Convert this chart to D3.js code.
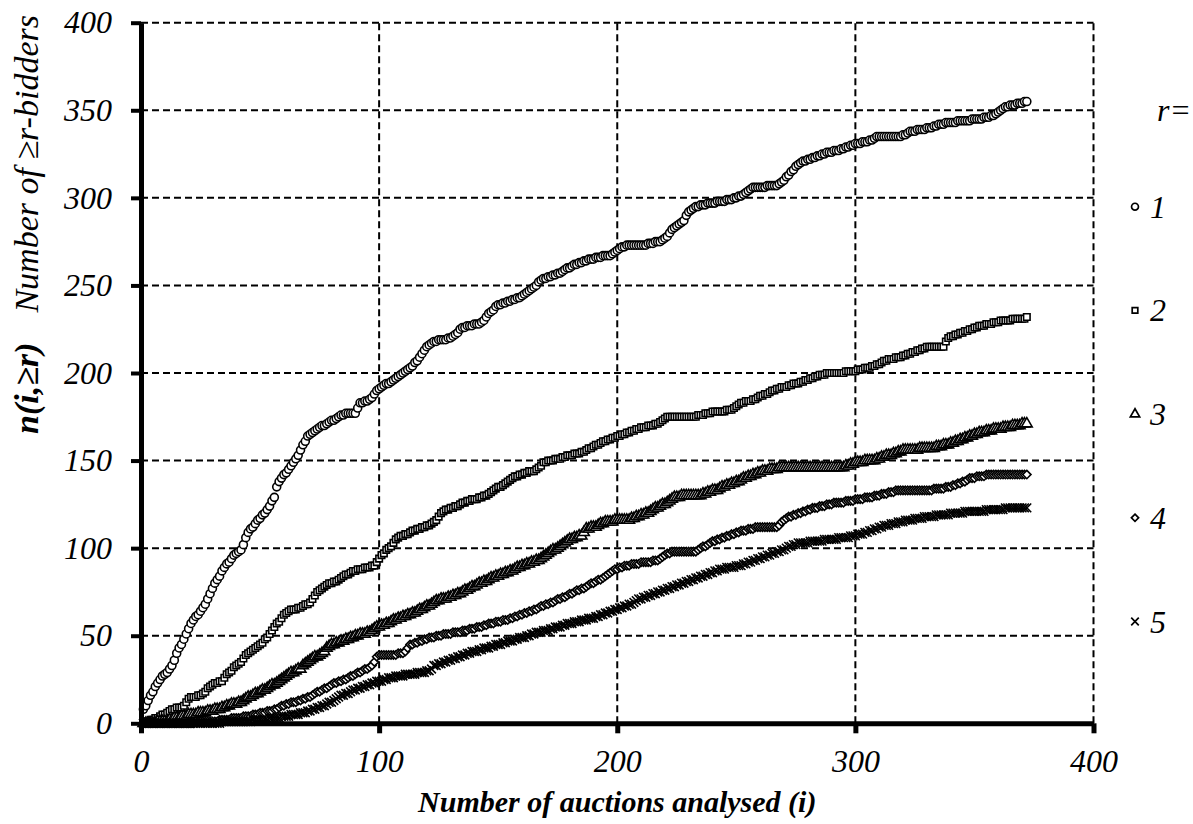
<!DOCTYPE html>
<html>
<head>
<meta charset="utf-8">
<script src="https://cdn.jsdelivr.net/npm/d3@7"></script>
<style>
  html, body { margin: 0; padding: 0; background: #fff; }
  svg { display: block; }
</style>
</head>
<body>
<svg id="chart" width="1193" height="824"></svg>
<script>
// cumulative number of bidders seen in >= r auctions, after auction i = 1..372
const r1 = [
  8,10,13,16,18,21,23,25,27,28, 29,31,33,36,40,43,45,48,51,54,
  57,59,61,62,64,66,68,71,74,77, 80,82,84,87,89,91,92,94,96,97,
  98,99,102,106,109,111,112,114,116,117, 119,120,122,124,127,129,135,138,140,142,
  143,145,147,149,151,153,156,159,161,164, 165,166,167,168,169,170,170,171,172,173,
  173,174,175,176,176,177,177,177,177,177, 180,183,183,184,184,185,186,188,190,191,
  192,193,194,194,195,196,197,198,199,200, 201,202,203,204,206,207,209,211,213,215,
  216,217,218,218,219,219,219,219,220,220, 221,222,223,225,226,226,227,227,227,228,
  228,228,229,230,232,234,235,236,238,239, 239,240,240,241,241,242,242,243,243,244,
  245,246,247,248,249,250,252,253,254,254, 255,255,256,256,257,257,258,259,260,260,
  261,262,262,263,263,264,264,265,265,265, 266,266,266,267,267,267,267,268,269,270,
  271,272,272,273,273,273,273,273,273,273, 273,273,274,274,274,275,275,275,276,277,
  278,280,282,283,284,285,286,287,290,292, 293,294,295,295,296,296,296,297,297,297,
  297,298,298,298,298,299,299,299,300,300, 301,301,302,303,304,305,306,306,306,306,
  306,306,307,307,307,307,307,308,309,310, 312,313,315,316,318,319,320,321,321,322,
  322,323,323,324,324,325,325,326,326,326, 327,327,327,328,328,329,329,330,330,331,
  331,331,332,332,332,333,333,334,335,335, 335,335,335,335,335,335,335,335,335,336,
  336,337,338,338,338,339,339,339,339,340, 340,340,341,341,342,342,342,343,343,343,
  343,343,344,344,344,344,344,344,345,345, 345,345,345,346,346,346,347,347,348,349,
  350,351,352,352,353,353,353,354,354,354, 355,355
];
const r2 = [
  0,1,1,2,2,3,3,4,5,5, 6,7,8,8,9,9,9,10,12,14,
  15,15,15,16,16,17,18,20,21,22, 23,23,24,24,26,28,29,30,32,33,
  34,35,37,39,40,41,42,43,44,45, 46,48,49,51,53,55,57,58,60,62,
  63,64,65,65,65,66,66,67,68,68, 69,71,73,75,76,77,78,79,80,80,
  81,81,82,83,84,85,85,86,87,87, 88,88,88,89,89,89,90,90,92,94,
  96,97,99,100,101,103,105,106,107,107, 108,108,109,110,110,111,111,112,112,113,
  113,114,115,116,118,120,121,122,122,123, 123,124,124,125,126,126,127,127,128,128,
  128,129,129,130,130,131,132,133,134,135, 135,136,137,138,139,140,141,141,142,142,
  143,143,144,144,144,145,146,147,149,149, 150,150,150,151,151,151,152,152,153,153,
  153,154,154,154,155,155,156,157,157,158, 159,159,160,161,161,162,162,163,163,164,
  164,165,165,166,166,167,167,168,168,169, 169,169,170,170,170,171,171,172,173,174,
  175,175,175,175,175,175,175,175,175,175, 175,175,175,176,176,176,177,177,177,178,
  178,178,178,178,178,179,179,179,180,181, 182,183,183,184,184,184,185,185,186,187,
  187,188,188,189,190,190,191,191,192,192, 192,193,193,194,194,194,195,195,196,196,
  197,197,198,198,199,199,199,200,200,200, 200,200,200,200,200,201,201,201,201,201,
  202,202,202,203,203,203,204,204,205,205, 206,207,207,208,208,208,209,209,209,210,
  210,211,211,212,212,213,213,214,214,215, 215,215,215,215,215,215,215,218,220,221,
  221,222,222,223,223,224,224,225,225,226, 226,227,227,227,228,228,228,229,229,229,
  230,230,230,230,230,231,231,231,231,231, 231,232
];
const r3 = [
  0,0,0,0,0,0,1,1,1,1, 1,2,2,3,3,3,4,4,4,5,
  5,5,5,6,6,6,6,7,7,7, 8,8,8,9,9,10,10,11,11,11,
  12,12,13,14,15,15,16,17,17,18, 19,19,20,21,22,22,23,24,25,26,
  27,28,29,29,30,31,31,33,34,35, 36,37,38,38,39,40,41,43,44,45,
  45,46,46,47,47,48,48,49,49,50, 50,51,51,51,52,52,53,54,55,55,
  56,56,57,57,58,59,59,60,60,61, 61,62,62,63,63,64,65,65,66,67,
  67,68,69,70,70,71,71,71,72,72, 73,73,74,74,75,76,76,77,78,78,
  79,80,80,81,81,82,83,83,84,84, 85,85,86,86,87,87,88,89,89,90,
  90,91,91,92,92,93,93,94,95,96, 97,98,99,99,100,101,102,103,104,105,
  105,106,106,107,107,109,111,111,112,112, 112,113,114,114,115,115,115,115,116,116,
  116,116,116,116,116,117,117,118,118,119, 119,120,120,121,122,123,123,124,125,125,
  126,127,128,129,129,129,130,130,130,130, 130,130,130,130,130,131,131,132,132,133,
  133,133,134,135,135,136,136,137,137,138, 138,139,140,140,141,141,142,142,143,143,
  144,144,144,145,145,145,145,146,146,146, 146,146,146,146,146,146,146,146,146,146,
  146,146,146,146,146,146,146,146,146,146, 146,146,146,146,146,147,147,148,148,149,
  149,149,149,150,150,150,150,150,151,151, 152,152,153,153,153,154,154,155,155,156,
  156,156,156,156,156,156,157,157,157,157, 157,157,157,158,158,158,159,159,159,160,
  160,161,161,162,162,163,163,164,164,165, 165,166,166,166,167,167,167,168,168,168,
  168,169,169,169,169,170,170,170,170,171, 171,171
];
const r4 = [
  0,0,0,0,0,0,0,0,0,0, 0,0,0,0,0,0,0,0,0,0,
  0,0,1,1,1,1,1,1,1,1, 1,1,2,2,2,2,2,3,3,3,
  3,3,4,4,4,4,5,5,5,6, 6,6,7,7,7,8,8,9,10,10,
  11,11,12,12,12,13,13,14,14,15, 15,16,17,18,18,19,20,20,21,22,
  23,23,24,24,25,25,26,27,27,28, 29,29,30,31,31,32,33,35,38,39,
  39,39,39,39,39,39,39,40,40,40, 41,43,45,45,46,46,47,47,48,48,
  49,49,49,50,50,50,51,51,51,51, 52,52,52,52,53,53,53,54,54,54,
  55,55,55,56,56,57,57,57,58,58, 58,59,59,59,60,60,61,61,62,62,
  63,63,64,64,65,65,66,67,67,68, 68,69,69,70,71,71,72,72,73,74,
  74,75,76,76,77,77,78,79,80,80, 81,82,82,83,84,85,86,87,88,88,
  89,89,90,90,90,91,91,91,91,92, 92,92,92,92,93,93,93,94,95,96,
  97,97,98,98,98,98,98,98,98,98, 98,98,98,99,100,101,101,102,103,104,
  104,105,105,106,106,107,107,108,108,109, 109,110,110,110,111,111,111,112,112,112,
  112,112,112,112,112,112,112,113,115,116, 117,118,118,119,119,120,120,121,121,122,
  122,123,123,123,124,124,124,125,125,125, 126,126,126,126,126,127,127,127,127,128,
  128,128,128,129,129,129,129,130,130,130, 131,131,131,132,132,132,133,133,133,133,
  133,133,133,133,133,133,133,133,133,133, 133,133,134,134,134,134,134,135,135,135,
  136,136,137,137,138,138,139,140,140,140, 141,141,141,141,142,142,142,142,142,142,
  142,142,142,142,142,142,142,142,142,142, 142,142
];
const r5 = [
  0,0,0,0,0,0,0,0,0,0, 0,0,0,0,0,0,0,0,0,0,
  0,0,0,0,0,0,0,0,0,0, 0,0,0,1,1,1,1,1,1,1,
  1,1,1,1,1,1,2,2,2,2, 2,2,2,3,3,3,3,3,4,4,
  4,4,5,5,5,5,6,6,6,7, 7,8,8,9,9,10,10,11,12,12,
  13,14,15,16,16,17,17,18,19,19, 20,20,21,21,22,22,23,23,24,24,
  24,25,25,26,26,26,27,27,27,27, 28,28,28,28,28,29,29,29,29,30,
  30,31,33,33,34,34,35,35,36,36, 37,37,38,38,39,39,40,40,41,41,
  41,42,42,43,43,43,44,44,45,45, 45,46,46,47,47,47,48,48,49,49,
  49,50,50,51,51,52,52,52,53,53, 53,54,54,55,55,55,56,56,57,57,
  57,58,58,58,59,59,59,60,60,60, 61,61,62,62,63,63,64,64,65,65,
  66,66,67,67,68,68,69,70,71,71, 72,72,73,73,74,74,75,75,76,76,
  77,77,78,78,79,79,80,80,81,81, 82,82,83,83,84,84,85,85,86,86,
  87,87,88,88,88,89,89,89,89,90, 90,90,91,91,92,92,93,93,94,94,
  95,95,96,96,97,97,98,98,99,99, 100,101,101,102,102,103,103,103,103,103,
  104,104,104,104,104,104,105,105,105,105, 105,105,106,106,106,106,106,107,107,107,
  108,108,108,109,109,110,110,111,111,112, 112,113,113,113,114,114,114,115,115,115,
  116,116,116,116,117,117,117,117,118,118, 118,118,118,119,119,119,119,119,119,120,
  120,120,120,120,120,121,121,121,121,121, 121,121,121,121,122,122,122,122,122,122,
  122,122,123,123,123,123,123,123,123,123, 123,123
];

const seriesNames = ["1", "2", "3", "4", "5"];
const seriesData = [r1, r2, r3, r4, r5];
const xTicks = [0, 100, 200, 300, 400];
const yTicks = [0, 50, 100, 150, 200, 250, 300, 350, 400];

const FONT = '"Liberation Serif"';

const svg = d3.select("#chart");
const plot = { left: 141, right: 1093.5, top: 22.7, bottom: 723.3 };

const x = d3.scaleLinear().domain([0, 400]).range([plot.left, plot.right]);
const y = d3.scaleLinear().domain([0, 400]).range([plot.bottom, plot.top]);

const symbols = [d3.symbolCircle, d3.symbolSquare, d3.symbolTriangle, d3.symbolDiamond2, d3.symbolTimes];
const sizes = [50, 42, 50, 44, 52];

const serifText = sel => sel
    .style("font-family", FONT)
    .style("font-style", "italic")
    .attr("fill", "#000");

// grid
const grid = svg.append("g").attr("class", "grid")
    .attr("stroke", "#000").attr("stroke-width", 2).attr("stroke-dasharray", "7,4").attr("fill", "none");
grid.selectAll("line.h")
    .data(yTicks.filter(d => d > 0))
    .join("line").attr("class", "h")
    .attr("x1", x(0)).attr("x2", x(400))
    .attr("y1", d => y(d)).attr("y2", d => y(d));
grid.selectAll("line.v")
    .data(xTicks.filter(d => d > 0))
    .join("line").attr("class", "v")
    .attr("x1", d => x(d)).attr("x2", d => x(d))
    .attr("y1", y(0)).attr("y2", y(400));

// series markers
const marks = svg.append("g").attr("class", "marks");
seriesData.forEach((vals, s) => {
    const pts = vals.map((v, k) => ({ i: k + 1, n: v }));
    const sym = d3.symbol().type(symbols[s]).size(sizes[s]);
    marks.append("g")
        .attr("fill", "#fff").attr("stroke", "#000").attr("stroke-width", 1.6)
        .selectAll("path")
        .data(pts)
        .join("path")
        .attr("d", sym)
        .attr("transform", d => `translate(${x(d.i)},${y(d.n)})`);
});

// axes
const yAxis = svg.append("g")
    .attr("transform", `translate(${plot.left},0)`)
    .call(d3.axisLeft(y).tickValues(yTicks).tickSize(10).tickSizeOuter(0).tickPadding(19));
yAxis.attr("font-family", null);
yAxis.select(".domain").attr("stroke", "#000").attr("stroke-width", 5);
yAxis.selectAll(".tick line").attr("stroke", "#000").attr("stroke-width", 4);
yAxis.selectAll("text").call(serifText).style("font-size", "32px");

const xAxis = svg.append("g")
    .attr("transform", `translate(0,${plot.bottom})`)
    .call(d3.axisBottom(x).tickValues(xTicks).tickSize(10).tickSizeOuter(0).tickPadding(16));
xAxis.attr("font-family", null);
xAxis.select(".domain").attr("stroke", "#000").attr("stroke-width", 5);
xAxis.selectAll(".tick line").attr("stroke", "#000").attr("stroke-width", 5);
xAxis.selectAll("text").call(serifText).style("font-size", "32px");

// axis titles
svg.append("text")
    .attr("x", (plot.left + plot.right) / 2).attr("y", 812)
    .attr("text-anchor", "middle")
    .call(serifText)
    .style("font-size", "30px").style("font-weight", "bold")
    .text("Number of auctions analysed (i)");

const yTitle = svg.append("text")
    .attr("transform", "translate(38,434) rotate(-90)")
    .attr("text-anchor", "start")
    .call(serifText)
    .style("font-size", "34px");
yTitle.append("tspan").style("font-weight", "bold").text("n(i,\u2265r)");
yTitle.append("tspan").attr("dx", 30).text("Number of \u2265r-bidders");

// legend
const legend = svg.append("g").attr("class", "legend");
legend.append("text").attr("x", 1157).attr("y", 121)
    .call(serifText).style("font-size", "32px").text("r=");
const item = legend.selectAll("g.item")
    .data(seriesNames)
    .join("g").attr("class", "item")
    .attr("transform", (d, k) => `translate(0,${206.7 + k * 103.7})`);
item.append("path")
    .attr("d", (d, k) => d3.symbol().type(symbols[k]).size(sizes[k] * 0.75)())
    .attr("transform", "translate(1135,0)")
    .attr("fill", "#fff").attr("stroke", "#000").attr("stroke-width", 1.7);
item.append("text")
    .attr("x", 1150).attr("y", 11)
    .call(serifText).style("font-size", "32px")
    .text(d => d);
</script>
</body>
</html>
